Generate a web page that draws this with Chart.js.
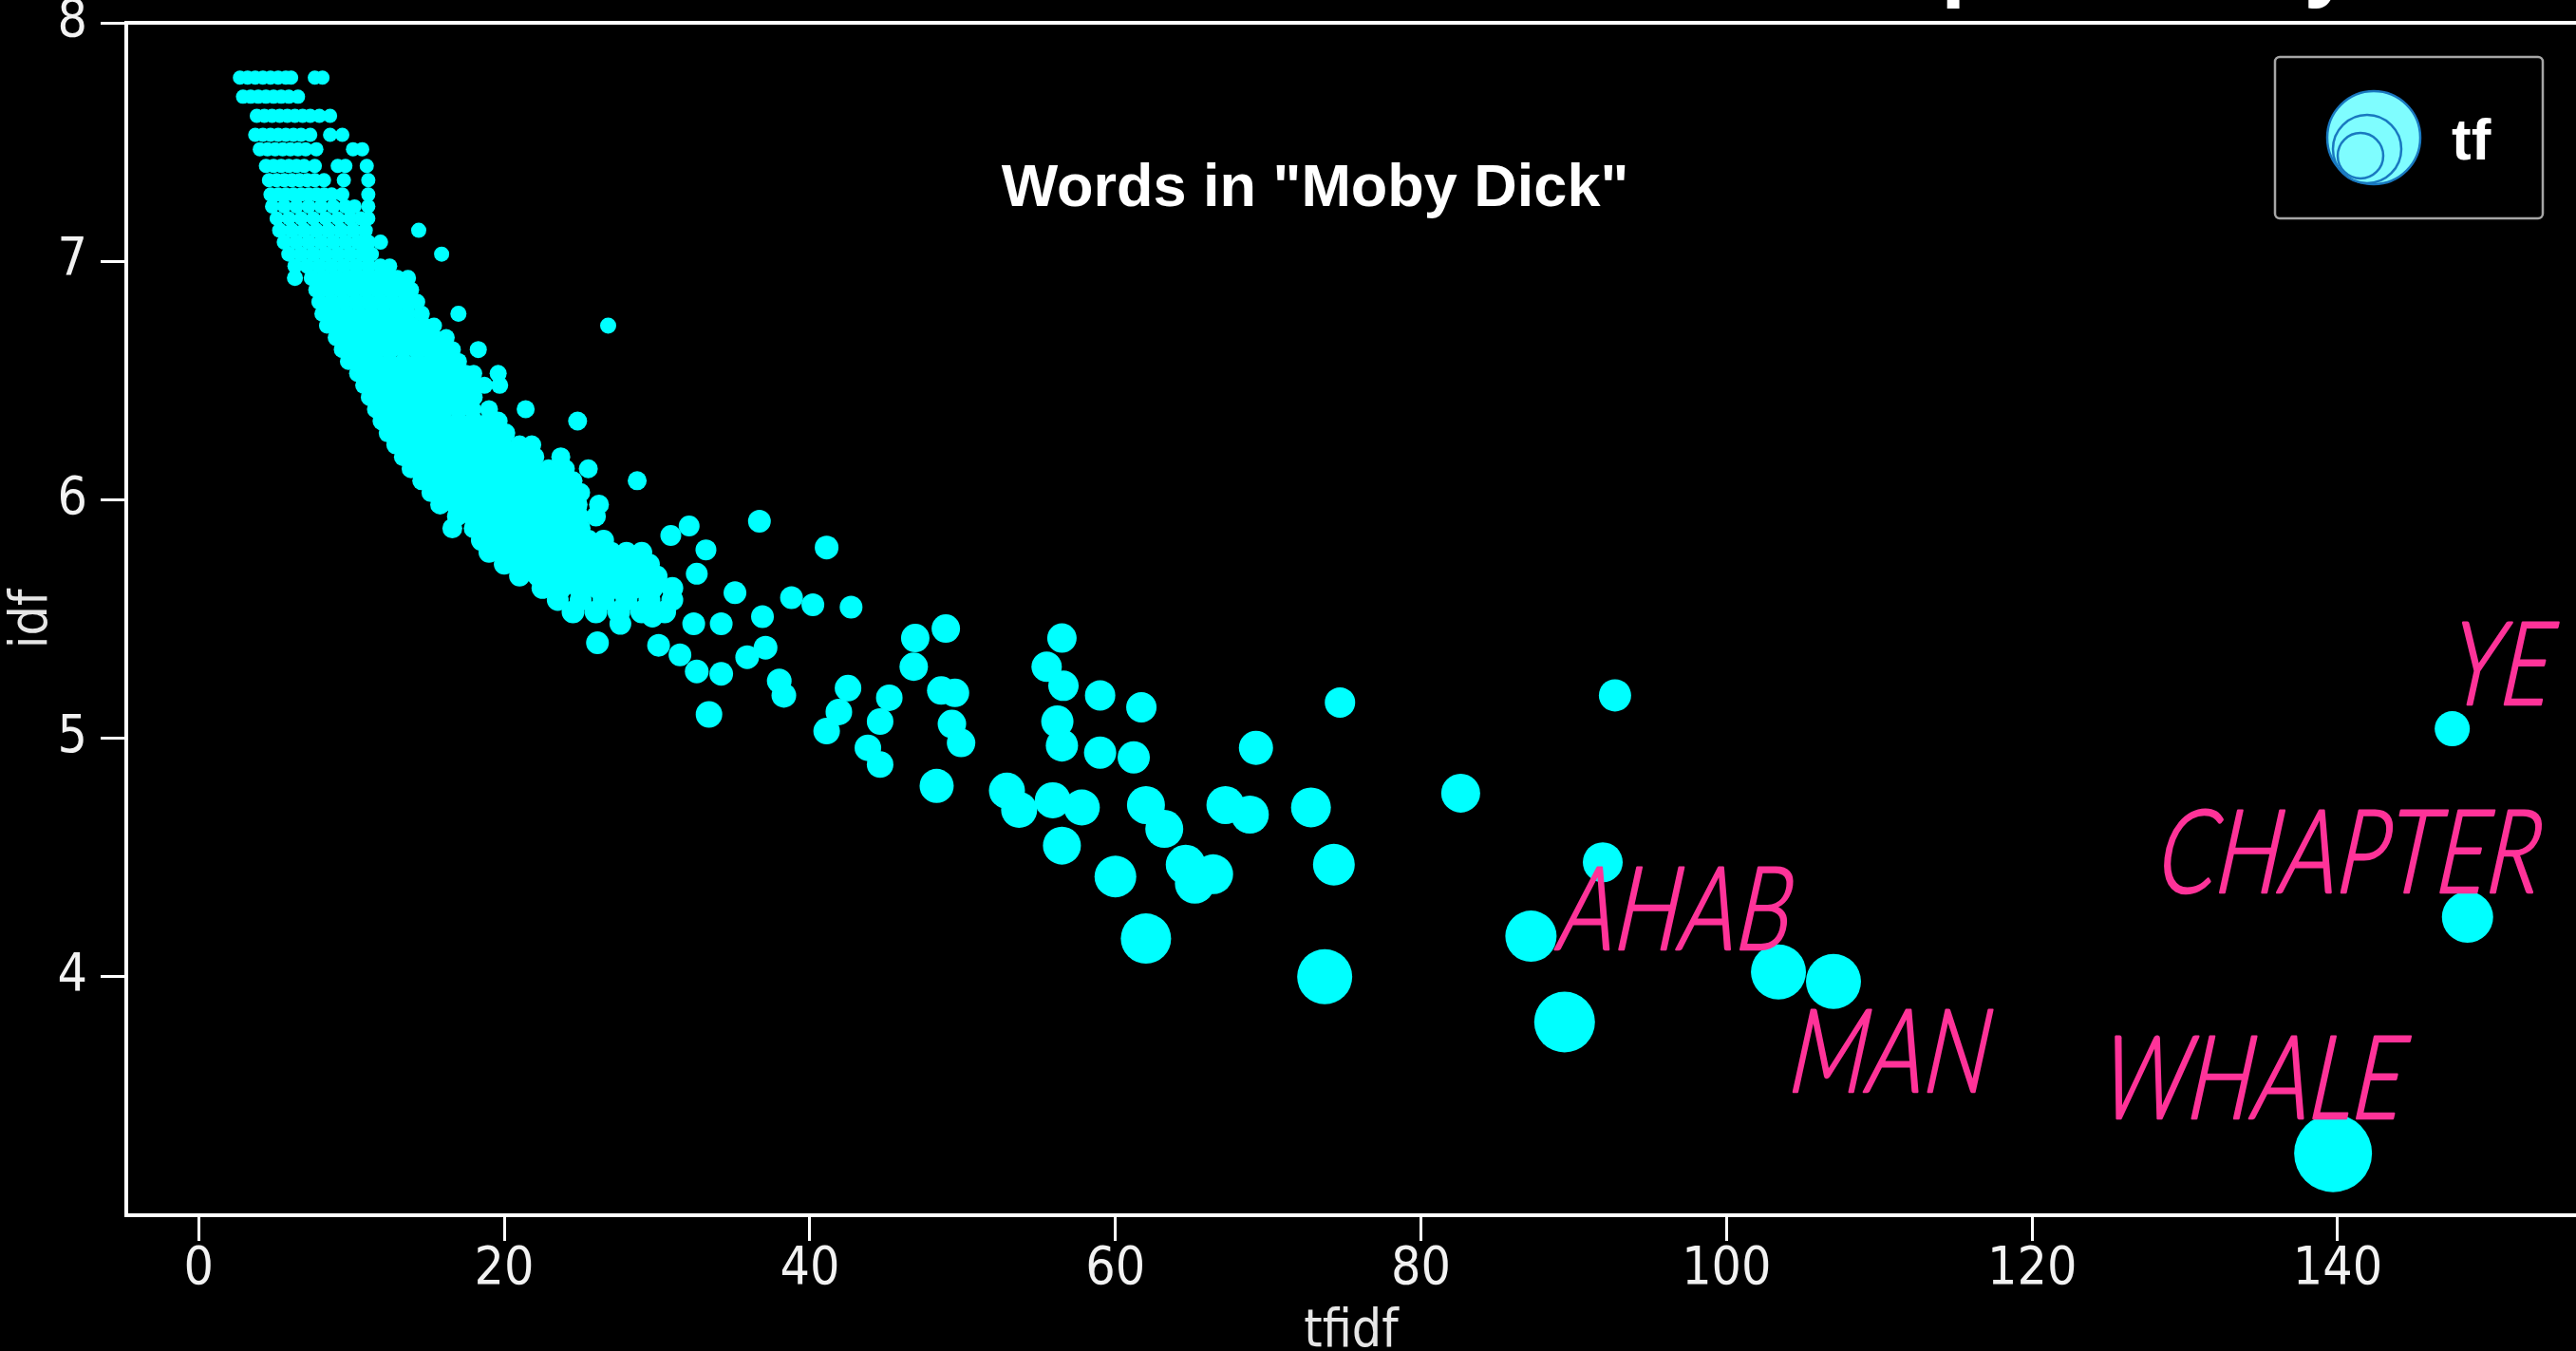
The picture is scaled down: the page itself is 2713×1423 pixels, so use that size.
<!DOCTYPE html>
<html>
<head>
<meta charset="utf-8">
<title>Words in "Moby Dick"</title>
<script src="https://cdn.jsdelivr.net/npm/chart.js@4.4.1/dist/chart.umd.min.js"></script>
<style>
  html, body { margin: 0; padding: 0; background: #000; overflow: hidden; }
  #grafico { display: block; }
</style>
</head>
<body>
<canvas id="grafico" width="2713" height="1423"></canvas>
<script>
// words that share one idf value (same document frequency) -> one band each
const bandIdf = [
  7.77, 7.69, 7.61, 7.53, 7.47, 7.40, 7.34, 7.28,
  7.23, 7.18, 7.13, 7.08, 7.03, 6.98, 6.93, 6.88, 6.83, 6.78, 6.73, 6.68,
  6.63, 6.58, 6.53, 6.48, 6.43, 6.38, 6.33, 6.28, 6.23, 6.18, 6.13, 6.08,
  6.03, 5.98, 5.93, 5.88, 5.83, 5.78, 5.73, 5.68, 5.63, 5.58, 5.53
];
const bandTf = [
  15, 15, 15, 15, 15, 15, 15, 15,
  15, 15, 16, 16, 16, 16, 17, 17, 17, 17, 17, 18,
  18, 18, 18, 18, 19, 19, 20, 20, 20, 20, 20, 20,
  20, 21, 21, 21, 22, 22, 22, 22, 23, 23, 24
];
const bandTfidf = [
  [2.7, 3.2, 3.7, 4.2, 4.7, 5.2, 5.7, 6.05, 7.6, 8.1],
  [2.9, 3.4, 3.9, 4.4, 4.9, 5.4, 5.9, 6.5],
  [3.8, 4.3, 4.8, 5.3, 5.8, 6.3, 6.8, 7.3, 7.9, 8.6],
  [3.7, 4.2, 4.7, 5.2, 5.7, 6.2, 6.7, 7.3, 8.6, 9.4],
  [4.0, 4.5, 5.0, 5.5, 6.0, 6.5, 7.0, 7.7, 10.1, 10.7],
  [4.4, 4.9, 5.4, 5.9, 6.4, 6.9, 7.6, 9.1, 9.6, 11.0],
  [4.6, 5.1, 5.6, 6.1, 6.6, 7.1, 7.6, 8.2, 9.5, 11.1],
  [4.7, 5.2, 5.7, 6.2, 6.7, 7.2, 7.7, 8.2, 8.7, 9.4, 11.1],
  [4.8, 5.6, 6.4, 7.2, 8.0, 8.8, 9.6, 10.2, 11.1],
  [5.1, 5.9, 6.7, 7.5, 8.3, 9.1, 9.9, 10.6, 11.1],
  [5.3, 6.1, 6.9, 7.7, 8.5, 9.3, 10.1, 10.9, 14.4],
  [5.6, 6.4, 7.2, 8.0, 8.8, 9.6, 10.4, 11.1, 11.9],
  [5.9, 6.7, 7.5, 8.3, 9.1, 9.9, 10.7, 11.3, 15.9],
  [6.3, 7.1, 7.9, 8.7, 9.5, 10.3, 11.1, 11.9, 12.5],
  [6.3, 7.4, 8.2, 9.0, 9.8, 10.6, 11.4, 12.2, 13.0, 13.7],
  [7.7, 8.5, 9.3, 10.1, 10.9, 11.7, 12.5, 13.3, 13.9],
  [7.9, 8.7, 9.5, 10.3, 11.1, 11.9, 12.7, 13.5, 14.3],
  [8.1, 8.9, 9.7, 10.5, 11.3, 12.1, 12.9, 13.7, 14.6, 17.0],
  [8.4, 9.2, 10.0, 10.8, 11.6, 12.4, 13.2, 14.0, 14.8, 15.4, 26.8],
  [9.0, 9.8, 10.6, 11.4, 12.2, 13.0, 13.8, 14.6, 15.4, 16.2],
  [9.4, 10.2, 11.0, 11.8, 12.6, 13.4, 14.2, 15.0, 15.8, 16.6, 18.3],
  [9.8, 10.7, 11.6, 12.5, 13.4, 14.3, 15.2, 16.1, 17.0],
  [10.4, 11.3, 12.2, 13.1, 14.0, 14.9, 15.8, 16.7, 17.5, 18.0, 19.6],
  [10.8, 11.7, 12.6, 13.5, 14.4, 15.3, 16.2, 17.1, 18.0, 18.7, 19.7],
  [11.2, 12.1, 13.0, 13.9, 14.8, 15.7, 16.6, 17.5, 18.0],
  [11.6, 12.5, 13.4, 14.3, 15.2, 16.1, 17.0, 17.9, 19.0, 21.4],
  [12.0, 13.0, 14.0, 15.0, 16.0, 17.0, 18.0, 19.0, 19.6, 24.8],
  [12.4, 13.4, 14.4, 15.4, 16.4, 17.4, 18.4, 19.4, 20.1],
  [12.9, 13.9, 14.9, 15.9, 16.9, 17.9, 18.9, 19.9, 21.0, 21.8],
  [13.4, 14.4, 15.4, 16.4, 17.4, 18.4, 19.4, 20.4, 21.4, 22.0, 23.7],
  [13.9, 14.9, 15.9, 16.9, 17.9, 18.9, 19.9, 20.9, 21.9, 22.9, 24.0, 25.5],
  [14.6, 15.6, 16.6, 17.6, 18.6, 19.6, 20.6, 21.6, 22.6, 23.6, 24.5, 28.7],
  [15.2, 16.2, 17.2, 18.2, 19.2, 20.2, 21.2, 22.2, 23.2, 24.2, 25.0],
  [15.8, 16.8, 17.8, 18.8, 19.8, 20.8, 21.8, 22.8, 23.8, 24.8, 26.2],
  [16.9, 17.9, 18.9, 19.9, 20.9, 21.9, 22.9, 23.9, 24.9, 26.0],
  [16.6, 18.0, 19.0, 20.0, 21.0, 22.0, 23.0, 24.0, 25.0],
  [18.5, 19.5, 20.5, 21.5, 22.5, 23.5, 24.5, 25.5, 26.5],
  [19.0, 20.0, 21.0, 22.0, 23.0, 24.0, 25.0, 26.0, 27.0, 28.0, 29.0],
  [20.0, 21.2, 22.4, 23.6, 24.8, 26.0, 27.2, 28.4, 29.5],
  [21.0, 22.2, 23.4, 24.6, 25.8, 27.0, 28.2, 29.4, 30.0],
  [22.5, 23.7, 24.9, 26.1, 27.3, 28.5, 29.7, 31.0],
  [23.5, 25.0, 26.5, 28.0, 29.5, 31.0],
  [24.5, 26.0, 27.5, 29.0, 30.5]
];

// the rarer, more frequent words, one by one
const wordTfidf = [
  36.7, 41.1, 32.1, 30.9, 33.2, 32.6, 35.1, 38.8, 40.2, 42.7,
  36.9, 34.2, 32.4, 29.7, 27.6, 26.1, 30.1, 31.5, 32.6, 34.2,
  35.9, 37.1, 38.0, 38.3, 33.4, 42.5, 41.9, 41.1, 45.2, 44.6,
  43.8, 44.6, 46.9, 48.9, 46.8, 48.6, 49.5, 49.3, 49.9, 48.3,
  56.5, 55.5, 56.6, 59.0, 61.7, 56.2, 56.5, 59.0, 61.2, 69.2,
  74.7, 52.9, 53.7, 55.9, 57.8, 56.5, 62.0, 63.2, 60.0, 64.6,
  66.4, 65.2, 67.2, 68.8, 72.8, 74.3, 62.0, 73.7, 82.6, 92.7,
  91.9, 87.2, 89.4, 103.4, 107.0, 147.5, 148.5, 139.7
];
const wordIdf = [
  5.91, 5.80, 5.89, 5.85, 5.79, 5.69, 5.61, 5.59, 5.56, 5.55,
  5.51, 5.48, 5.48, 5.51, 5.48, 5.40, 5.39, 5.35, 5.28, 5.27,
  5.34, 5.38, 5.24, 5.18, 5.10, 5.21, 5.11, 5.03, 5.17, 5.07,
  4.96, 4.89, 5.42, 5.46, 5.30, 5.20, 5.19, 5.06, 4.98, 4.80,
  5.42, 5.30, 5.22, 5.18, 5.13, 5.07, 4.97, 4.94, 4.92, 4.96,
  5.15, 4.78, 4.70, 4.74, 4.71, 4.55, 4.72, 4.62, 4.42, 4.47,
  4.43, 4.39, 4.72, 4.68, 4.71, 4.47, 4.16, 4.00, 4.77, 5.18,
  4.48, 4.17, 3.81, 4.02, 3.98, 5.04, 4.25, 3.26
];
const wordTf = [
  24, 25, 22, 22, 22, 23, 24, 24, 24, 24,
  24, 24, 24, 23, 23, 24, 24, 24, 25, 25,
  25, 25, 26, 26, 28, 28, 28, 28, 28, 28,
  28, 28, 30, 30, 30, 30, 30, 30, 30, 36,
  31, 32, 32, 32, 32, 34, 34, 34, 34, 36,
  32, 38, 38, 38, 38, 40, 40, 40, 44, 42,
  42, 42, 40, 40, 42, 44, 53, 58, 41, 34,
  42, 54, 64, 58, 58, 37, 54, 82
];

const xTicks = [0, 20, 40, 60, 80, 100, 120, 140];
const yTicks = [4, 5, 6, 7, 8];

// handwritten notes next to some words
const noteWords = ['AHAB', 'MAN', 'WHALE', 'CHAPTER', 'YE'];
const noteTfidf = [88.9, 104.0, 124.4, 128.1, 147.2];
const noteIdf = [4.115, 3.517, 3.406, 4.353, 5.142];

const plotTitle = 'Words in "Moby Dick"';
const slideHeading = 'Example: Moby Dick';

(() => {
    const RADIO_POR_TF = 0.5;
    const FUENTE_EJES = "'DejaVu Sans Condensed', 'DejaVu Sans', sans-serif";
    const FUENTE_NEGRITA = "'Liberation Sans', Arial, sans-serif";

    const puntos = [];
    bandIdf.forEach((y, i) => {
        bandTfidf[i].forEach(x => puntos.push({ x, y, r: bandTf[i] * RADIO_POR_TF }));
    });
    wordTfidf.forEach((x, i) => {
        puntos.push({ x, y: wordIdf[i], r: wordTf[i] * RADIO_POR_TF });
    });

    const decoraciones = {
        id: 'decoraciones',
        afterDraw(chart) {
            const { ctx, chartArea: area, scales } = chart;
            ctx.save();

            // borde superior del marco
            ctx.strokeStyle = '#ffffff';
            ctx.lineWidth = 4;
            ctx.beginPath();
            ctx.moveTo(area.left - 2, area.top);
            ctx.lineTo(area.right, area.top);
            ctx.stroke();

            // titulo de la diapositiva, casi todo fuera de la imagen
            ctx.fillStyle = '#ffffff';
            ctx.textBaseline = 'alphabetic';
            ctx.textAlign = 'left';
            ctx.font = 'bold 93px ' + FUENTE_NEGRITA;
            ctx.fillText(slideHeading, 1796, -10);

            // titulo del grafico
            ctx.font = 'bold 63px ' + FUENTE_NEGRITA;
            ctx.textAlign = 'center';
            ctx.fillText(plotTitle, 1385, 217);

            // leyenda
            const lx = area.right - 317, ly = area.top + 36;
            ctx.strokeStyle = '#a6a6a6';
            ctx.lineWidth = 2.5;
            ctx.beginPath();
            ctx.roundRect(lx, ly, 282, 170, 5);
            ctx.stroke();

            ctx.fillStyle = '#7ffdff';
            ctx.strokeStyle = '#1978c0';
            ctx.lineWidth = 2.5;
            [[104, 85, 49], [97, 97, 36], [90, 104, 24]].forEach(([cx, cy, r]) => {
                ctx.beginPath();
                ctx.arc(lx + cx, ly + cy, r, 0, Math.PI * 2);
                ctx.fill();
                ctx.stroke();
            });

            ctx.fillStyle = '#ffffff';
            ctx.textAlign = 'left';
            ctx.font = 'bold 62px ' + FUENTE_NEGRITA;
            ctx.fillText('tf', lx + 186, ly + 108);

            // notas a mano en rosa
            ctx.fillStyle = '#ff3399';
            ctx.strokeStyle = '#ff3399';
            ctx.lineWidth = 2.5;
            ctx.lineJoin = 'round';
            ctx.font = 'italic 300 122px Lato, sans-serif';
            noteWords.forEach((palabra, i) => {
                ctx.save();
                ctx.translate(scales.x.getPixelForValue(noteTfidf[i]), scales.y.getPixelForValue(noteIdf[i]));
                ctx.transform(0.8, 0, -0.12, 1, 0, 0);
                ctx.fillText(palabra, 0, 0);
                ctx.strokeText(palabra, 0, 0);
                ctx.restore();
            });

            ctx.restore();
        }
    };

    const ctx = document.getElementById('grafico').getContext('2d');

    new Chart(ctx, {
        type: 'bubble',
        data: {
            datasets: [{
                label: 'tf',
                data: puntos,
                backgroundColor: '#00ffff',
                borderWidth: 0,
                hoverBorderWidth: 0
            }]
        },
        options: {
            responsive: false,
            animation: false,
            events: [],
            devicePixelRatio: 1,
            layout: { autoPadding: false, padding: { top: 24, right: 0, bottom: 0, left: 0 } },
            plugins: {
                legend: { display: false },
                title: { display: false },
                tooltip: { enabled: false }
            },
            scales: {
                x: {
                    type: 'linear',
                    min: -4.74,
                    max: 155.6,
                    afterBuildTicks: s => { s.ticks = xTicks.map(v => ({ value: v })); },
                    afterFit: s => { s.height = 143; s.paddingLeft = 0; s.paddingRight = 0; },
                    grid: { display: true, drawOnChartArea: false, drawTicks: true, tickLength: 27, color: '#ffffff', lineWidth: 3 },
                    border: { display: true, color: '#ffffff', width: 4 },
                    ticks: {
                        color: '#f2f2f2',
                        padding: 9,
                        maxRotation: 0,
                        autoSkip: false,
                        font: { family: FUENTE_EJES, size: 55, lineHeight: 0.8 }
                    },
                    title: {
                        display: true,
                        text: 'tfidf',
                        color: '#e6e6e6',
                        padding: 0,
                        font: { family: FUENTE_EJES, size: 55, lineHeight: 0.7 }
                    }
                },
                y: {
                    type: 'linear',
                    min: 3,
                    max: 8,
                    afterBuildTicks: s => { s.ticks = yTicks.map(v => ({ value: v })); },
                    afterFit: s => { s.width = 133; s.paddingTop = 0; s.paddingBottom = 0; },
                    grid: { display: true, drawOnChartArea: false, drawTicks: true, tickLength: 27, color: '#ffffff', lineWidth: 3 },
                    border: { display: true, color: '#ffffff', width: 4 },
                    ticks: {
                        color: '#f2f2f2',
                        padding: 14,
                        font: { family: FUENTE_EJES, size: 55, lineHeight: 0.8 }
                    },
                    title: {
                        display: true,
                        text: 'idf',
                        color: '#e6e6e6',
                        padding: { top: 7, bottom: 0 },
                        font: { family: FUENTE_EJES, size: 55, lineHeight: 1 }
                    }
                }
            }
        },
        plugins: [decoraciones]
    });
})();
</script>
</body>
</html>
